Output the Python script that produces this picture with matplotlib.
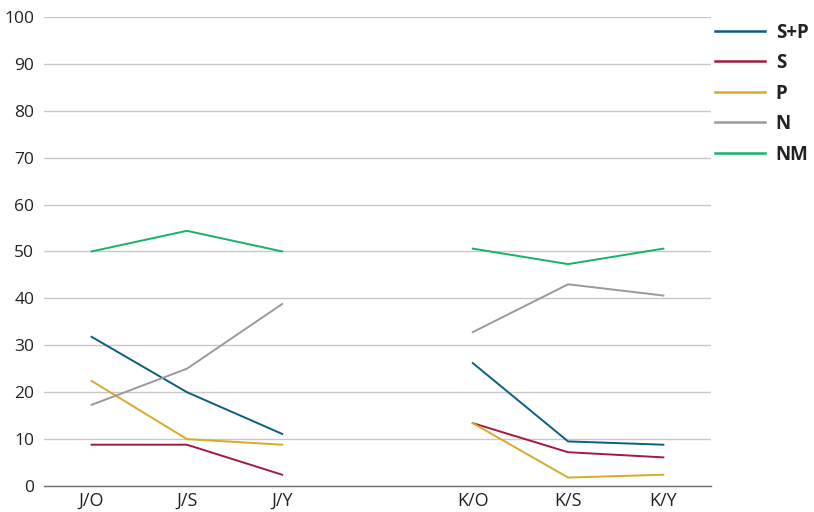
import matplotlib.pyplot as plt
import numpy as np

# categories (slot 3 is an empty gap between groups)
groups = [['J/O', 'J/S', 'J/Y'], ['K/O', 'K/S', 'K/Y']]
tick_labels = ['J/O', 'J/S', 'J/Y', '', 'K/O', 'K/S', 'K/Y']

series_names = ['S+P', 'S', 'P', 'N', 'NM']
colors = ['#0b5f7f', '#a31a3f', '#d9a92a', '#9a9a9a', '#17b26a']

sp_j = [31.8, 20.0, 11.1]
sp_k = [26.2, 9.5, 8.8]
s_j = [8.8, 8.8, 2.4]
s_k = [13.4, 7.2, 6.1]
p_j = [22.4, 10.0, 8.8]
p_k = [13.4, 1.8, 2.4]
n_j = [17.3, 25.0, 38.8]
n_k = [32.8, 43.0, 40.6]
nm_j = [50.0, 54.4, 50.0]
nm_k = [50.6, 47.3, 50.6]

values_j = [sp_j, s_j, p_j, n_j, nm_j]
values_k = [sp_k, s_k, p_k, n_k, nm_k]

plt.rcParams['font.family'] = ['Open Sans', 'DejaVu Sans']

fig = plt.figure(figsize=(8.14, 5.12), dpi=100)
ax = fig.add_axes([0.054, 0.0508, 0.8195, 0.9162])

x_j = [tick_labels.index(c) for c in groups[0]]
x_k = [tick_labels.index(c) for c in groups[1]]

for name, col, vj, vk in zip(series_names, colors, values_j, values_k):
    ax.plot(x_j, vj, color=col, linewidth=1.4, label=name, zorder=3)
    ax.plot(x_k, vk, color=col, linewidth=1.4, zorder=3)

ax.set_xlim(-0.5, 6.5)
ax.set_ylim(0, 100)
ax.set_yticks(np.arange(0, 101, 10))
ax.set_xticks(range(len(tick_labels)))
ax.set_xticklabels(tick_labels, fontsize=13)
ax.yaxis.grid(True, color='#c8c8c8', linewidth=1)
ax.set_axisbelow(True)
for side in ['top', 'right', 'left']:
    ax.spines[side].set_visible(False)
ax.spines['bottom'].set_color('#707070')
ax.spines['bottom'].set_linewidth(1)
ax.tick_params(axis='both', length=0, colors='#222222')
ax.tick_params(axis='y', pad=7, labelsize=12.5)
ax.tick_params(axis='x', pad=4)

leg = ax.legend(loc='upper left', bbox_to_anchor=(1.0, 0.996), frameon=False,
                borderaxespad=0.0, borderpad=0.2,
                handlelength=2.7, handletextpad=0.55, labelspacing=0.56,
                prop={'weight': 'bold', 'size': 13.5})
for t in leg.get_texts():
    t.set_color('#222222')
for h in leg.get_lines():
    h.set_linewidth(1.8)

plt.savefig('out.png', dpi=100)
